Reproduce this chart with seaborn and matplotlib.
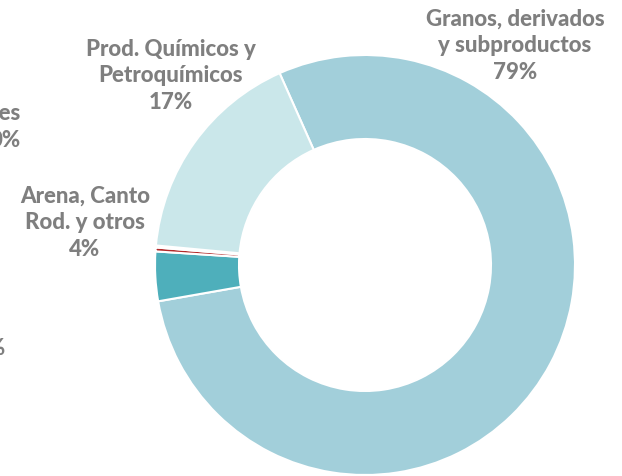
import matplotlib
matplotlib.use("Agg")
import matplotlib.pyplot as plt
import seaborn as sns

# Datos del gráfico (participación por tipo de carga)
categorias = ["Granos, derivados\ny subproductos", "Arena, Canto\nRod. y otros",
              "Minerales", "Otros", "Prod. Químicos y\nPetroquímicos"]
valores = [78.9, 3.8, 0.3, 0.15, 16.85]
etiquetas_pct = ["79%", "4%", "0%", "0%", "17%"]
colores = ["#A2CFDA", "#4EAFBB", "#B22A2A", "#E8F2F4", "#CAE7EA"]

sns.set_style("white")
plt.rcParams["font.family"] = ["Lato", "DejaVu Sans"]

fig = plt.figure(figsize=(6.22, 4.77), dpi=100)
ax = fig.add_axes([0, 0, 1, 1])

# centro del anillo en (365, 266) px, radio 210 px
r_px = 210.0
cx, cy = 365.0, 266.0
ax.pie(valores, colors=colores, startangle=114, counterclock=False,
       radius=1.0, wedgeprops=dict(width=0.4, edgecolor="white", linewidth=1.5))
ax.set_xlim(-cx / r_px, (622 - cx) / r_px)
ax.set_ylim(-(477 - cy) / r_px, cy / r_px)
ax.set_aspect("auto")
ax.axis("off")


def px(x, y):
    return (x - cx) / r_px, (cy - y) / r_px


gris = "#7F7F7F"
kw = dict(color=gris, fontweight="black", fontsize=16, linespacing=1.32, clip_on=False)

ax.text(*px(515, 46), categorias[0] + "\n" + etiquetas_pct[0], ha="center", va="center", **kw)
ax.text(*px(171, 76), categorias[4] + "\n" + etiquetas_pct[4], ha="center", va="center", **kw)
ax.text(*px(85, 223), categorias[1] + "\n" + etiquetas_pct[1], ha="center", va="center", **kw)
ax.text(*px(21, 127), categorias[2] + "\n" + etiquetas_pct[2], ha="right", va="center",
        multialignment="right", **kw)
ax.text(*px(6, 349), etiquetas_pct[3], ha="right", va="center", **kw)

fig.savefig("out.png", dpi=100)
